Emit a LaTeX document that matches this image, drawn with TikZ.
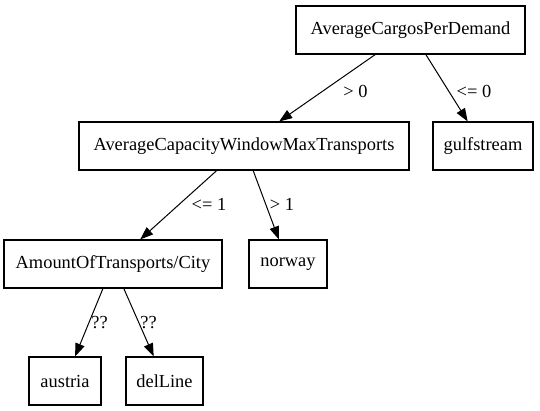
\documentclass[tikz,border=0pt]{standalone}
\usepackage{fontspec}
\setmainfont{Liberation Serif}
\usetikzlibrary{arrows.meta}
\begin{document}
\begin{tikzpicture}[x=1pt,y=-1pt,
  treebox/.style={draw, line width=1.1pt, minimum height=48pt, inner sep=2pt, font=\fontsize{18.4}{20}\selectfont},
  edgelbl/.style={anchor=base, inner sep=0pt, font=\fontsize{18.4}{20}\selectfont},
  conn/.style={line width=1pt, -{Triangle[length=13pt,width=9.5pt]}}]
\useasboundingbox (0,0) rectangle (540,411);
\node[treebox, minimum width=229pt] (A) at (410.5,30) {AverageCargosPerDemand};
\node[treebox, minimum width=330pt] (B) at (244,146) {AverageCapacityWindowMaxTransports};
\node[treebox, minimum width=100pt] (C) at (483,146) {gulfstream};
\node[treebox, minimum width=218pt] (D) at (113,264) {AmountOfTransports/City};
\node[treebox, minimum width=78pt] (E) at (288,264) {norway};
\node[treebox, minimum width=72pt] (F) at (65,381) {austria};
\node[treebox, minimum width=77pt] (G) at (164.5,381) {delLine};
\draw[conn] (A) -- (B);
\draw[conn] (A) -- (C);
\draw[conn] (B) -- (D);
\draw[conn] (B) -- (E);
\draw[conn] (D) -- (F);
\draw[conn] (D) -- (G);
\node[edgelbl] (l1) at (355.5,98) {> 0};
\node[edgelbl] (l2) at (474,98) {<= 0};
\node[edgelbl] (l3) at (209,210.5) {<= 1};
\node[edgelbl] (l4) at (282,210.5) {> 1};
\node[edgelbl] (l5) at (99.5,328) {??};
\node[edgelbl] (l6) at (148.5,328) {??};
\end{tikzpicture}
\end{document}
